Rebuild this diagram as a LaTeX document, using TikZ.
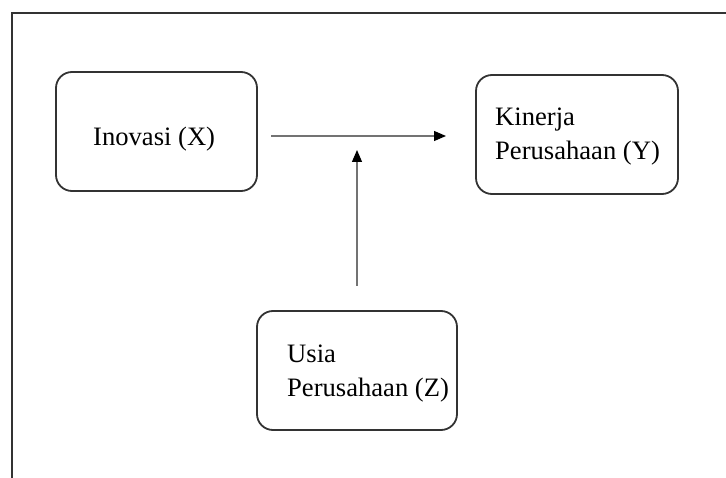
\documentclass[tikz,border=0pt]{standalone}
\usepackage{fontspec}
\setmainfont{Liberation Serif}
\usetikzlibrary{arrows.meta}
\begin{document}
\begin{tikzpicture}[x=1pt,y=-1pt,
  box/.style={draw=black!80, line width=1.8pt, rounded corners=16pt, fill=white},
  lbl/.style={inner sep=0pt, font=\fontsize{26.6}{34}\selectfont, align=left},
  conn/.style={draw=black!55, line width=1.2pt, -{Triangle[length=12pt,width=10pt,color=black]}}]
\useasboundingbox (0,0) rectangle (726,478);
\begin{scope}
\clip (0,0) rectangle (726,478);
\draw[black!80, line width=2.2pt] (12,480) -- (12,13) -- (730,13);
\end{scope}
% boxes
\node[box, minimum width=201pt, minimum height=119pt] (x) at (156.5,131.5) {};
\node[box, minimum width=202pt, minimum height=119pt] (y) at (577,134.5) {};
\node[box, minimum width=200pt, minimum height=119pt] (z) at (357,370.5) {};
% labels (base anchor = baseline of last line)
\node[lbl, anchor=base west] (xt) at (93,146) {Inovasi (X)};
\node[lbl, anchor=base west] (yt) at (495,160) {Kinerja\\Perusahaan (Y)};
\node[lbl, anchor=base west] (zt) at (287,396) {Usia\\Perusahaan (Z)};
% connectors
\coordinate (hs) at (271,136);
\coordinate (he) at (446,136);
\coordinate (vs) at (357,286);
\coordinate (ve) at (357,150);
\draw[conn] (hs) -- (he);
\draw[conn] (vs) -- (ve);
\end{tikzpicture}
\end{document}
